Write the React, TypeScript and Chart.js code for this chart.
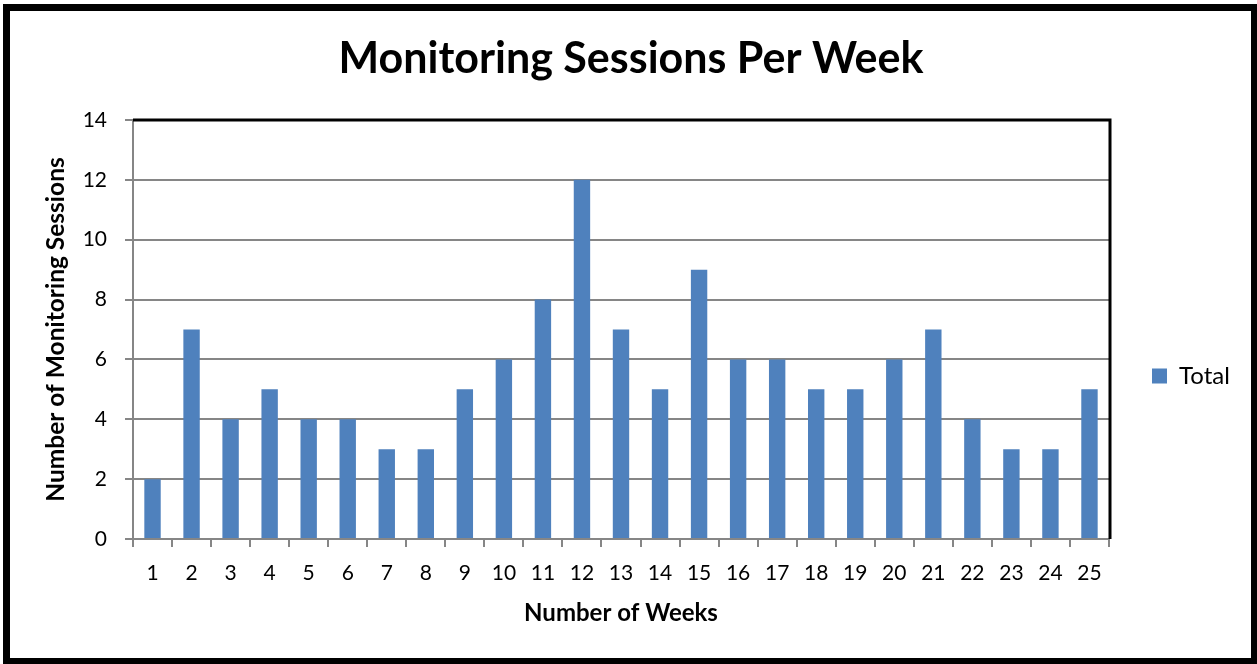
import React, { useEffect, useRef } from "react";
import { Chart, registerables } from "chart.js";

Chart.register(...registerables);

const weeks: string[] = [
  "1", "2", "3", "4", "5", "6", "7", "8", "9", "10", "11", "12", "13",
  "14", "15", "16", "17", "18", "19", "20", "21", "22", "23", "24", "25",
];
const sessions: number[] = [2, 7, 4, 5, 4, 4, 3, 3, 5, 6, 8, 12, 7, 5, 9, 6, 6, 5, 5, 6, 7, 4, 3, 3, 5];
const seriesName = "Total";
const chartTitle = "Monitoring Sessions Per Week";
const xTitle = "Number of Weeks";
const yTitle = "Number of Monitoring Sessions";

const FONT = "Lato";
const BAR = "#4F81BD";
const GRID = "#868686";

const W = 1257;
const H = 664;
const PLOT_LEFT = 133;
const PLOT_RIGHT = 1109;
const LEGEND_FS = 24;
const LEGEND_PAD = 43;

const framePlugin = {
  id: "frame",
  afterDraw(chart: any) {
    const { ctx, chartArea } = chart;
    ctx.save();
    ctx.strokeStyle = "#000";
    ctx.lineWidth = 3;
    ctx.beginPath();
    ctx.moveTo(chartArea.left, chartArea.top);
    ctx.lineTo(chartArea.right + 1, chartArea.top);
    ctx.lineTo(chartArea.right + 1, chartArea.bottom);
    ctx.stroke();
    ctx.lineWidth = 7;
    ctx.strokeRect(6.5, 7.5, W - 9, H - 10);
    ctx.restore();
  },
};

export default function App() {
  const ref = useRef<HTMLCanvasElement | null>(null);
  useEffect(() => {
    let chart: Chart | null = null;
    let cancelled = false;
    const fontsReady = (document as any).fonts
      ? Promise.all([
          (document as any).fonts.load(`bold 43px ${FONT}`),
          (document as any).fonts.load(`24px ${FONT}`),
        ]).catch(() => null)
      : Promise.resolve(null);
    fontsReady.then(() => {
      if (cancelled || !ref.current) return;
      // measure legend text to give the legend box its reference width
      const mctx = document.createElement("canvas").getContext("2d")!;
      mctx.font = `${LEGEND_FS}px ${FONT}`;
      const tw = mctx.measureText(seriesName).width;
      const legendW = LEGEND_PAD + 15 + LEGEND_FS / 2 + tw + 10;
      const padRight = Math.max(0, W - PLOT_RIGHT - legendW);
      const padLeft = padRight + 5;

      chart = new Chart(ref.current, {
        type: "bar",
        data: {
          labels: weeks,
          datasets: [
            {
              label: seriesName,
              data: sessions,
              backgroundColor: BAR,
              borderWidth: 0,
              barPercentage: 0.42,
              categoryPercentage: 1,
            },
          ],
        },
        options: {
          responsive: false,
          animation: false,
          layout: { padding: { left: padLeft, top: 0, right: padRight, bottom: 0 } },
          font: { family: FONT },
          plugins: {
            legend: {
              display: true,
              position: "right",
              align: "center",
              title: {
                display: true,
                text: " ",
                font: { family: FONT, size: 10, lineHeight: 1.2 },
                padding: { top: 76, bottom: 0 },
              },
              labels: {
                boxWidth: 15,
                boxHeight: 15,
                padding: LEGEND_PAD,
                color: "#000",
                font: { family: FONT, size: LEGEND_FS },
              },
            },
            tooltip: { enabled: false },
            title: {
              display: true,
              text: chartTitle,
              color: "#000",
              font: { family: FONT, size: 43, weight: "bold", lineHeight: 1.2 },
              padding: { top: 33, bottom: 35.4 },
            },
          },
          scales: {
            x: {
              offset: true,
              grid: {
                offset: true,
                drawOnChartArea: false,
                drawTicks: true,
                tickLength: 8,
                color: GRID,
                lineWidth: 2,
              },
              border: { color: GRID, width: 2 },
              ticks: {
                color: "#000",
                font: { family: FONT, size: 21 },
                padding: 14,
                maxRotation: 0,
                autoSkip: false,
              },
              title: {
                display: true,
                text: xTitle,
                color: "#000",
                font: { family: FONT, size: 24, weight: "bold", lineHeight: 1.2 },
                padding: { top: 0, bottom: 36 },
              },
              afterFit(scale: any) {
                scale.height = 125;
              },
            },
            y: {
              min: 0,
              max: 14,
              ticks: {
                stepSize: 2,
                color: "#000",
                font: { family: FONT, size: 21 },
                padding: 18,
              },
              grid: {
                color: GRID,
                lineWidth: 2,
                tickLength: 8,
                drawTicks: true,
              },
              border: { color: GRID, width: 2 },
              title: {
                display: true,
                text: yTitle,
                color: "#000",
                font: { family: FONT, size: 24.5, weight: "bold", lineHeight: 1.2 },
                padding: { top: 41 - padLeft, bottom: 0 },
              },
              afterFit(scale: any) {
                scale.width = PLOT_LEFT - padLeft;
              },
            },
          },
        },
        plugins: [framePlugin],
      });
    });
    return () => {
      cancelled = true;
      if (chart) chart.destroy();
    };
  }, []);

  return (
    <div style={{ position: "fixed", left: 0, top: 0, width: W, height: H, background: "#fff" }}>
      <canvas ref={ref} width={W} height={H} style={{ display: "block" }} />
    </div>
  );
}
